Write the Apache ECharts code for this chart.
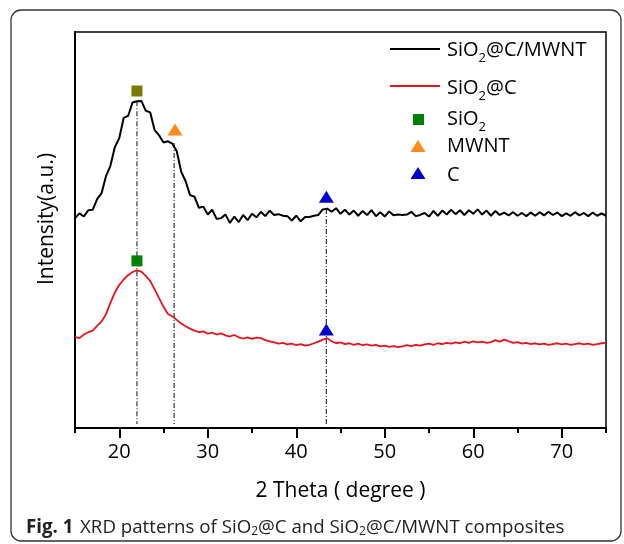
<!DOCTYPE html>
<html>
<head>
<meta charset="utf-8">
<script src="https://cdn.jsdelivr.net/npm/echarts@6/dist/echarts.min.js"></script>
<style>
  html, body { margin: 0; padding: 0; background: #fff; }
  #chart { width: 624px; height: 544px; }
</style>
</head>
<body>
<div id="chart"></div>
<script>
// 2θ grid: 15 → 75 deg, step 0.5
var thetaStart = 15, thetaStep = 0.5
// SiO2@C/MWNT (black)
var yMWNT = [
  53.0, 54.2, 53.4, 55.0, 55.1, 57.8, 59.3, 63.6, 66.2, 70.9,
  73.2, 78.3, 78.8, 82.2, 82.5, 82.6, 80.1, 79.7, 75.2, 73.9,
  72.1, 72.4, 71.8, 69.9, 64.7, 62.3, 58.8, 58.4, 55.6, 55.9,
  53.9, 55.1, 52.8, 53.0, 53.9, 51.8, 53.4, 52.0, 53.8, 52.5,
  54.1, 53.2, 54.6, 53.5, 54.9, 53.8, 54.0, 53.6, 53.5, 52.4,
  53.6, 52.2, 53.3, 53.3, 53.6, 53.8, 55.2, 55.4, 54.6, 55.5,
  54.1, 55.1, 53.9, 54.9, 53.6, 54.8, 53.8, 55.0, 53.5, 54.5,
  53.4, 54.7, 53.7, 53.9, 53.8, 53.9, 54.6, 53.5, 53.8, 54.3,
  53.4, 54.8, 53.6, 54.9, 53.9, 55.1, 54.0, 55.0, 53.8, 55.0,
  54.1, 55.2, 53.9, 54.9, 53.6, 54.8, 53.8, 54.4, 53.7, 54.5,
  53.6, 54.3, 53.5, 54.4, 53.6, 54.5, 53.7, 54.6, 53.8, 54.4,
  53.5, 54.2, 53.6, 54.5, 53.7, 54.3, 53.5, 54.4, 53.6, 54.2,
  53.6
]
// SiO2@C (red)
var yC = [
  23.0, 22.7, 23.6, 24.2, 24.6, 25.8, 26.9, 28.7, 31.6, 34.2,
  36.1, 37.5, 38.6, 39.4, 39.8, 39.5, 38.4, 37.1, 35.0, 32.8,
  30.6, 28.8, 28.2, 27.3, 26.4, 25.7, 25.1, 24.6, 24.2, 24.4,
  23.8, 24.1, 23.6, 23.9, 23.4, 23.1, 23.5, 22.9, 22.6, 22.9,
  22.5, 22.8, 22.7, 22.2, 21.9, 21.6, 21.3, 21.5, 21.1, 21.3,
  20.9, 21.2, 20.8, 21.0, 21.4, 21.8, 22.3, 22.7, 21.9, 21.4,
  21.6, 21.2, 21.4, 21.0, 21.3, 20.9, 21.1, 20.8, 21.0, 20.6,
  20.8, 20.5, 20.7, 20.4, 20.6, 20.9, 20.7, 21.0, 20.8, 21.1,
  21.3, 21.0, 21.4, 21.2, 21.5, 21.3, 21.6, 21.4, 21.8, 21.5,
  21.9, 21.6, 21.8, 21.5, 21.7, 22.2, 21.8, 22.3, 21.9, 21.5,
  21.7, 21.3, 21.5, 21.2, 21.4, 21.1, 21.3, 21.0, 21.2, 21.4,
  21.1, 21.3, 21.0, 21.2, 21.4, 21.1, 21.3, 21.0, 21.2, 21.4,
  21.5
]
// peak markers [2θ, y]
var peakSiO2 = [[22.0, 85.1], [22.0, 42.2]]
var peakMWNT = [[26.3, 75.4]]
var peakC = [[43.4, 58.4], [43.4, 24.9]]
// dash-dot guide lines: 2θ, top y
var guideX = [22.0, 26.2, 43.4]
var guideTop = [82.5, 72.0, 55.3]
var guideBottom = 1.0
var xTickLabels = [20, 30, 40, 50, 60, 70]
var xMinorTicks = [15, 25, 35, 45, 55, 65, 75]

function pairs(arr) {
  return arr.map(function (v, i) { return [thetaStart + i * thetaStep, v] })
}

var font = 'Open Sans'
var myChart = echarts.init(document.getElementById('chart'))

var guideSeries = guideX.map(function (x, i) {
  return {
    type: 'line',
    data: [[x, guideTop[i]], [x, guideBottom]],
    symbol: 'none',
    silent: true,
    z: 1,
    lineStyle: { color: '#333', width: 1.2, type: [5, 2, 1, 2] }
  }
})

var subRich = {
  n: { fontSize: 20, fontFamily: font, fill: '#000', lineHeight: 22 },
  s: { fontSize: 13, fontFamily: font, fill: '#000', padding: [16, 0, 0, 0] }
}

var option = {
  animation: false,
  grid: {
    left: 75, right: 18, top: 32, bottom: 116,
    show: true, borderColor: '#000', borderWidth: 1.5
  },
  xAxis: [{
    type: 'value', min: 15, max: 75,
    axisLine: { lineStyle: { color: '#000', width: 2 } },
    axisTick: { length: 10, customValues: xTickLabels, lineStyle: { color: '#000', width: 2 } },
    axisLabel: {
      customValues: xTickLabels, margin: 14,
      color: '#000', fontSize: 20, fontFamily: font
    },
    splitLine: { show: false },
    name: '2 Theta ( degree )', nameLocation: 'middle', nameGap: 53,
    nameTextStyle: { color: '#000', fontSize: 21, fontFamily: font }
  }, {
    type: 'value', min: 15, max: 75, position: 'bottom',
    axisLine: { show: false },
    axisTick: { length: 5, customValues: xMinorTicks, lineStyle: { color: '#000', width: 2 } },
    axisLabel: { show: false },
    splitLine: { show: false }
  }],
  yAxis: {
    type: 'value', min: 0, max: 100,
    axisLine: { show: true, lineStyle: { color: '#000', width: 2 } },
    axisTick: { show: false },
    axisLabel: { show: false },
    splitLine: { show: false }
  },
  graphic: [
    {
      type: 'rect', silent: true,
      shape: { x: 11, y: 10, width: 610, height: 531, r: 10 },
      style: { fill: 'none', stroke: '#333', lineWidth: 1.3 }
    },
    {
      type: 'text', x: 47, y: 219, rotation: Math.PI / 2,
      style: {
        text: 'Intensity(a.u.)', fill: '#000', font: '21px "Open Sans"',
        align: 'center', verticalAlign: 'middle'
      }
    },
    // legend
    { type: 'line', shape: { x1: 390, y1: 49, x2: 440, y2: 49 }, style: { stroke: '#000', lineWidth: 2 } },
    { type: 'line', shape: { x1: 390, y1: 86, x2: 440, y2: 86 }, style: { stroke: '#e8141c', lineWidth: 2 } },
    { type: 'rect', shape: { x: 413, y: 114, width: 11, height: 11 }, style: { fill: '#008000' } },
    { type: 'polygon', shape: { points: [[418, 140], [425.5, 152], [410.5, 152]] }, style: { fill: '#ff8c1a' } },
    { type: 'polygon', shape: { points: [[418, 167], [425.5, 179], [410.5, 179]] }, style: { fill: '#0000c8' } },
    { type: 'text', x: 447, y: 50, style: { text: '{n|SiO}{s|2}{n|@C/MWNT}', verticalAlign: 'middle', rich: subRich } },
    { type: 'text', x: 447, y: 88, style: { text: '{n|SiO}{s|2}{n|@C}', verticalAlign: 'middle', rich: subRich } },
    { type: 'text', x: 447, y: 119, style: { text: '{n|SiO}{s|2}', verticalAlign: 'middle', rich: subRich } },
    { type: 'text', x: 447, y: 146, style: { text: 'MWNT', font: '20px "Open Sans"', fill: '#000', verticalAlign: 'middle' } },
    { type: 'text', x: 447, y: 175, style: { text: 'C', font: '20px "Open Sans"', fill: '#000', verticalAlign: 'middle' } },
    // caption
    {
      type: 'text', x: 26, y: 528,
      style: {
        text: '{b|Fig. 1}  {n|XRD patterns of SiO}{s|2}{n|@C and SiO}{s|2}{n|@C/MWNT composites}',
        verticalAlign: 'middle',
        rich: {
          b: { fontSize: 18.7, fontFamily: font, fontWeight: 'bold', fill: '#222', lineHeight: 20 },
          n: { fontSize: 18.7, fontFamily: font, fill: '#222', lineHeight: 20 },
          s: { fontSize: 12, fontFamily: font, fill: '#222', padding: [8, 0, 0, 0] }
        }
      }
    }
  ],
  series: guideSeries.concat([
    {
      name: 'SiO2@C/MWNT', type: 'line', data: pairs(yMWNT),
      symbol: 'none', z: 3,
      lineStyle: { color: '#000', width: 2 }
    },
    {
      name: 'SiO2@C', type: 'line', data: pairs(yC),
      symbol: 'none', z: 3,
      lineStyle: { color: '#e8141c', width: 1.8 }
    },
    {
      name: 'SiO2', type: 'scatter', symbol: 'rect', symbolSize: 11, z: 4,
      data: peakSiO2.map(function (p, i) {
        return { value: p, itemStyle: { color: i === 0 ? '#7a7a00' : '#008000', opacity: 1 } }
      })
    },
    {
      name: 'MWNT', type: 'scatter', symbol: 'triangle', symbolSize: [15, 12], z: 4,
      data: peakMWNT, itemStyle: { color: '#ff8c1a', opacity: 1 }
    },
    {
      name: 'C', type: 'scatter', symbol: 'triangle', symbolSize: [15, 12], z: 4,
      data: peakC, itemStyle: { color: '#0000c8', opacity: 1 }
    }
  ])
}
myChart.setOption(option)
</script>
</body>
</html>
